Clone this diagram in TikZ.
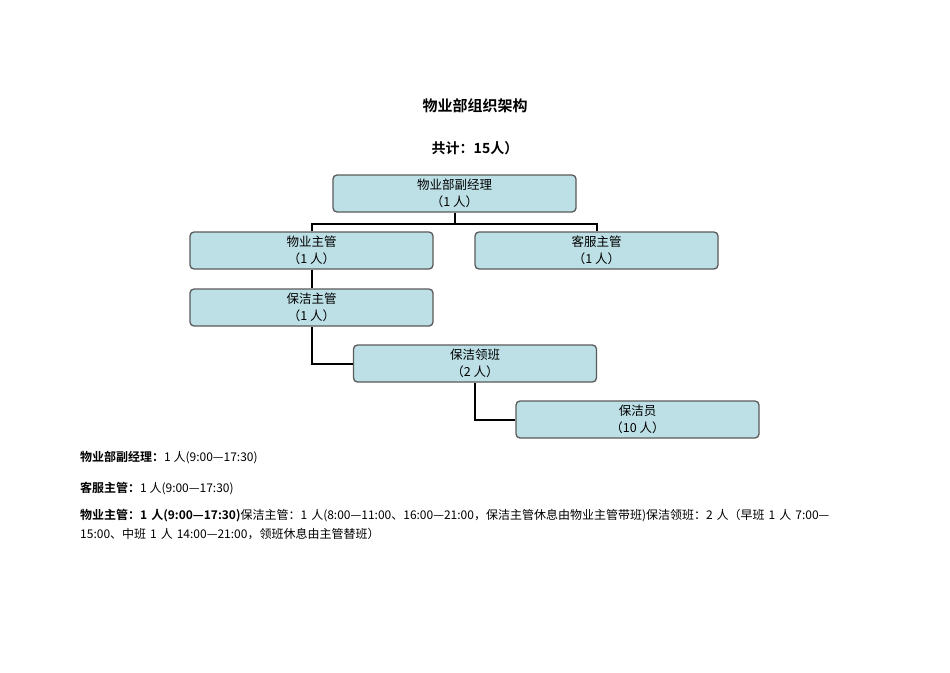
\documentclass[tikz,border=0pt]{standalone}
\usepackage{fontspec}
\setmainfont{Liberation Serif}
\newfontfamily\cjk{Noto Sans CJK SC}
\newfontfamily\cjkb{Noto Sans CJK SC Bold}
\definecolor{boxfill}{RGB}{189,224,230}
\definecolor{boxline}{RGB}{90,90,90}
\begin{document}
\begin{tikzpicture}[x=1pt,y=-1pt,
  box/.style={draw=boxline,line width=1.3pt,fill=boxfill,rounded corners=4pt,minimum width=243pt,minimum height=37pt,align=center,font=\cjk\fontsize{12.5}{17}\selectfont,inner sep=0pt},
  conn/.style={line width=2pt}]
\useasboundingbox (0,0) rectangle (950,672);
\fill[white] (0,0) rectangle (950,672);
\node[font=\cjkb\fontsize{15}{16}\selectfont] (title) at (475,106) {物业部组织架构};
\node[font=\cjkb\fontsize{14}{16}\selectfont] (total) at (475,148) {共计：15人）};
\node[box] (m) at (454.5,193.5) {物业部副经理\\（1 人）};
\node[box] (wy) at (311.5,250.5) {物业主管\\（1 人）};
\node[box] (kf) at (596.5,250.5) {客服主管\\（1 人）};
\node[box] (bj) at (311.5,307.5) {保洁主管\\（1 人）};
\node[box] (lb) at (475,363.5) {保洁领班\\（2 人）};
\node[box] (bjy) at (637.5,419.5) {保洁员\\（10 人）};
\coordinate (j) at (454.5,224);
\draw[conn] (m.south) -- (j);
\draw[conn] (wy.north) |- (j) -| (kf.north);
\draw[conn] (wy.south) -- (bj.north);
\draw[conn] (bj.south) |- (lb.west);
\draw[conn] (lb.south) |- (bjy.west);
\begin{scope}[every node/.style={anchor=west,inner sep=0pt,font=\cjk\fontsize{12}{19}\selectfont}]
\node (t1) at (80,458) {{\cjkb 物业部副经理：}1 人(9:00—17:30)};
\node (t2) at (80,488) {{\cjkb 客服主管：}1 人(9:00—17:30)};
\node[anchor=north west,text width=780pt,align=left] (t3) at (80,509) {{\cjkb 物业主管：1 人(9:00—17:30)}保洁主管：1 人(8:00—11:00、16:00—21:00，保洁主管休息由物业主管带班)保洁领班：2 人（早班 1 人 7:00—15:00、中班 1 人 14:00—21:00，领班休息由主管替班）};
\end{scope}
\end{tikzpicture}
\end{document}
